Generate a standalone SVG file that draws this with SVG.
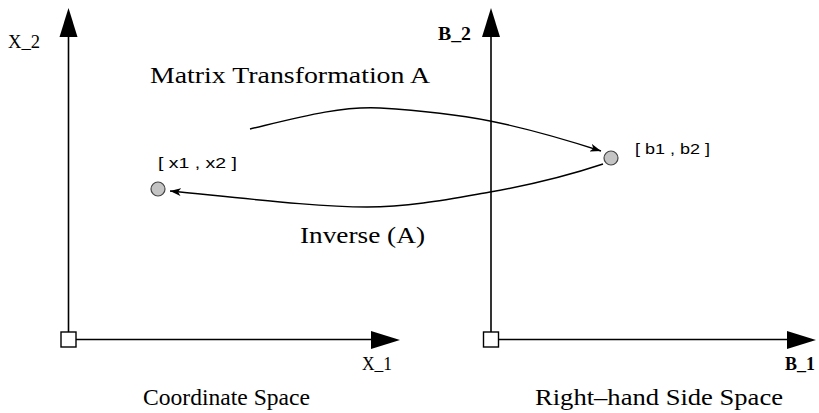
<svg xmlns="http://www.w3.org/2000/svg" width="819" height="413" viewBox="0 0 819 413">
<style>
.ax{stroke:#000;stroke-width:1.6;fill:none}
.sq{stroke:#000;stroke-width:1.4;fill:#fff}
.head{fill:#000}
.lbl{font-family:"Liberation Serif",serif;font-size:24px;fill:#000}
.axl{font-family:"Liberation Serif",serif;font-size:18px;fill:#000}
.pt{font-family:"Liberation Sans",sans-serif;font-size:15px;fill:#000}
.node{fill:#c4c4c4;stroke:#444;stroke-width:1.2}
.cv{stroke:#000;stroke-width:1.4;fill:none}
</style>
<defs>
<marker id="arr" markerWidth="12" markerHeight="8" refX="11" refY="4" orient="auto" markerUnits="userSpaceOnUse">
<path d="M0,0 L11,4 L0,8 L3,4 Z" fill="#000"/>
</marker>
</defs>
<rect width="819" height="413" fill="#fff"/>
<g id="coord-axes">
<line class="ax" x1="68.5" y1="332" x2="68.5" y2="36"/>
<polygon class="head" points="68.5,8 59.5,37 77.5,37"/>
<line class="ax" x1="76" y1="339.5" x2="372" y2="339.5"/>
<polygon class="head" points="400,340 371,331 371,349"/>
<rect class="sq" x="61" y="332" width="15" height="15"/>
<text class="axl" x="8" y="48" textLength="32" lengthAdjust="spacingAndGlyphs">X_2</text>
<text class="axl" x="362" y="370" textLength="30" lengthAdjust="spacingAndGlyphs">X_1</text>
<text class="lbl" x="143" y="405" textLength="167" lengthAdjust="spacingAndGlyphs">Coordinate Space</text>
</g>
<g id="rhs-axes">
<line class="ax" x1="491" y1="332" x2="491" y2="36"/>
<polygon class="head" points="491,8 482,37 500,37"/>
<line class="ax" x1="498" y1="339.5" x2="788" y2="339.5"/>
<polygon class="head" points="816,340 787,331 787,349"/>
<rect class="sq" x="483.5" y="332" width="15" height="15"/>
<text class="axl" x="438" y="40" font-weight="bold" textLength="33" lengthAdjust="spacingAndGlyphs">B_2</text>
<text class="axl" x="785" y="370" font-weight="bold" textLength="30" lengthAdjust="spacingAndGlyphs">B_1</text>
<text class="lbl" x="535" y="405" textLength="248" lengthAdjust="spacingAndGlyphs">Right–hand Side Space</text>
</g>
<g id="connectors">
<path class="cv" d="M250,129 C300,117 340,106 380,108 C430,111 460,115 490,121 C530,129 570,141 601,151" marker-end="url(#arr)"/>
<path class="cv" d="M603,164 C570,175 530,185 490,192 C450,199 410,207 367,207 C320,207 260,200 170,191" marker-end="url(#arr)"/>
<text class="lbl" x="150" y="83" textLength="280" lengthAdjust="spacingAndGlyphs">Matrix Transformation A</text>
<text class="lbl" x="300" y="243" textLength="125" lengthAdjust="spacingAndGlyphs">Inverse (A)</text>
</g>
<g id="node-x">
<circle class="node" cx="158" cy="189" r="7"/>
<text class="pt" x="158" y="168" textLength="79" lengthAdjust="spacingAndGlyphs">[ x1 , x2 ]</text>
</g>
<g id="node-b">
<circle class="node" cx="611" cy="158" r="7"/>
<text class="pt" x="635" y="154" textLength="75" lengthAdjust="spacingAndGlyphs">[ b1 , b2 ]</text>
</g>
</svg>
